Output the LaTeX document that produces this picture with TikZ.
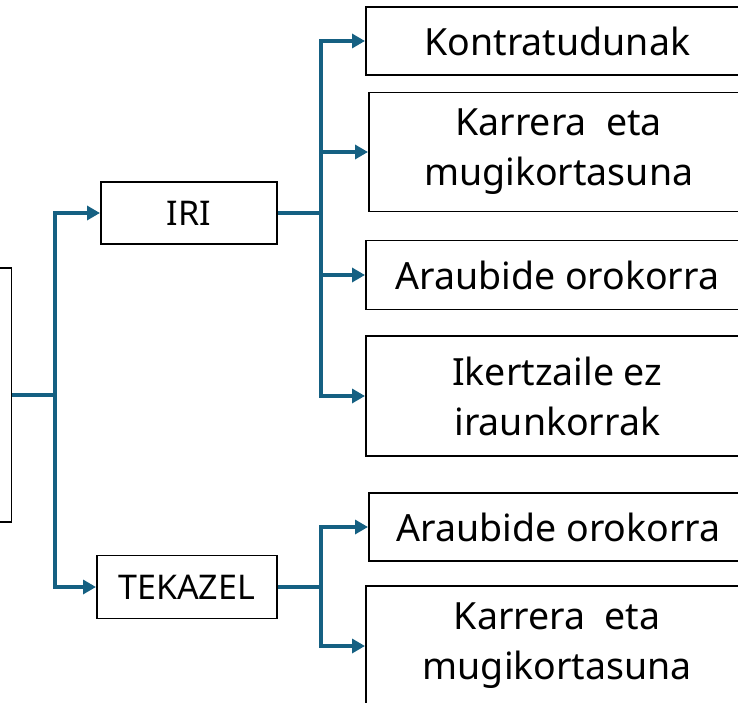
\documentclass[tikz,border=0pt]{standalone}
\usepackage{fontspec}
\setmainfont{Noto Sans}
\usetikzlibrary{arrows.meta}
\definecolor{linkblue}{RGB}{21,96,130}
\tikzset{
  box/.style={draw, line width=1.5pt, anchor=west, align=center, inner sep=0pt,
    font=\fontsize{37.5}{50}\selectfont},
  midbox/.style={box, font=\fontsize{34}{40}\selectfont},
  link/.style={draw=linkblue, line width=3.4pt},
  arrowlink/.style={link, -{Triangle[length=13pt,width=14pt]}}
}

\begin{document}
\begin{tikzpicture}[x=1pt,y=-1pt]
\clip (0,0) rectangle (738,703);
% root (cut off on the left)
\node [box, anchor=east, minimum width=80pt, minimum height=254pt] (root) at (12,395) {};
% second level
\node [midbox, minimum width=176pt, minimum height=62pt] (iri) at (100,213) {IRI};
\node [midbox, minimum width=180pt, minimum height=63pt] (tek) at (96,587) {TEKAZEL};
% IRI leaves
\node [box, minimum width=383pt, minimum height=68pt] (kon) at (365,41) {Kontratudunak};
\node [box, minimum width=380pt, minimum height=119pt] (kar) at (368,152) {Karrera\ \ eta\\mugikortasuna};
\node [box, minimum width=383pt, minimum height=69pt] (ara) at (365,275) {Araubide orokorra};
\node [box, minimum width=383pt, minimum height=120pt] (ike) at (365,396) {Ikertzaile ez\\iraunkorrak};
% TEKAZEL leaves
\node [box, minimum width=380pt, minimum height=68pt] (tara) at (368,527) {Araubide orokorra};
\node [box, minimum width=383pt, minimum height=120pt] (tkar) at (365,646) {Karrera\ \ eta\\mugikortasuna};
% branch points
\coordinate (b0) at (55,395);
\coordinate (b1) at (321,213);
\coordinate (b2) at (321,587);
% connectors
\draw [link] (root.east) -- (b0);
\draw [arrowlink] (b0) |- (iri.west);
\draw [arrowlink] (b0) |- (tek.west);
\draw [link] (iri.east) -- (b1);
\foreach \n in {kon,kar,ara,ike}
  \draw [arrowlink] (b1) |- (\n.west);
\draw [link] (tek.east) -- (b2);
\foreach \n in {tara,tkar}
  \draw [arrowlink] (b2) |- (\n.west);
\end{tikzpicture}
\end{document}
